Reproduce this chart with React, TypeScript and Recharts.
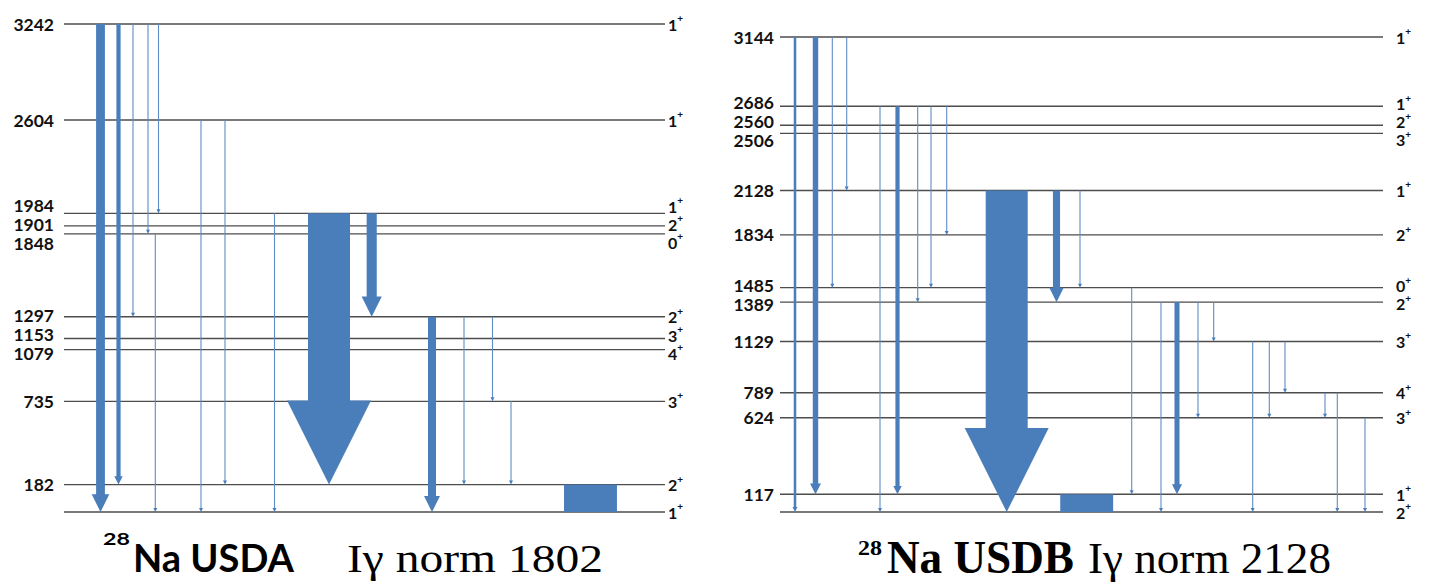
import React from 'react';
import { ComposedChart, XAxis, YAxis, ReferenceLine, ReferenceDot } from 'recharts';

// level energies (keV) and spins, highest first
const usdaLevels = [3242, 2604, 1984, 1901, 1848, 1297, 1153, 1079, 735, 182, 0];
const usdaSpins = ['1', '1', '1', '2', '0', '2', '3', '4', '3', '2', '1'];
const usdbLevels = [3144, 2686, 2560, 2506, 2128, 1834, 1485, 1389, 1129, 789, 624, 117, 0];
const usdbSpins = ['1', '1', '2', '3', '1', '2', '0', '2', '3', '4', '3', '1', '2'];

// gamma transitions: column, initial level, final level, relative intensity
const usdaGammas = [
  { col: 36.5, from: 3242, to: 0, ig: 21 },
  { col: 54.5, from: 3242, to: 182, ig: 10 },
  { col: 69, from: 3242, to: 1297, ig: 2 },
  { col: 84, from: 3242, to: 1848, ig: 2 },
  { col: 94.5, from: 3242, to: 1984, ig: 2 },
  { col: 91.3, from: 1848, to: 0, ig: 2 },
  { col: 137, from: 2604, to: 0, ig: 2 },
  { col: 161, from: 2604, to: 182, ig: 2 },
  { col: 210.5, from: 1984, to: 0, ig: 2 },
  { col: 265, from: 1984, to: 182, ig: 100 },
  { col: 307.7, from: 1984, to: 1297, ig: 24 },
  { col: 368, from: 1297, to: 0, ig: 19 },
  { col: 400, from: 1297, to: 182, ig: 2 },
  { col: 428.5, from: 1297, to: 735, ig: 2 },
  { col: 447, from: 735, to: 182, ig: 2 },
];
const usdaBoxes = [{ col: 526.5, from: 182, to: 0, ig: 126 }];

const usdbGammas = [
  { col: 15, from: 3144, to: 0, ig: 6 },
  { col: 35.5, from: 3144, to: 117, ig: 13 },
  { col: 52.3, from: 3144, to: 1485, ig: 2 },
  { col: 66.7, from: 3144, to: 2128, ig: 2 },
  { col: 100, from: 2686, to: 0, ig: 2 },
  { col: 117.5, from: 2686, to: 117, ig: 10 },
  { col: 137.7, from: 2686, to: 1389, ig: 2 },
  { col: 151, from: 2686, to: 1485, ig: 2 },
  { col: 166.7, from: 2686, to: 1834, ig: 2 },
  { col: 226.7, from: 2128, to: 0, ig: 100 },
  { col: 276.5, from: 2128, to: 1389, ig: 17 },
  { col: 300, from: 2128, to: 1485, ig: 2 },
  { col: 351.7, from: 1485, to: 117, ig: 2 },
  { col: 381, from: 1389, to: 0, ig: 2 },
  { col: 397, from: 1389, to: 117, ig: 12 },
  { col: 418, from: 1389, to: 624, ig: 2 },
  { col: 433.7, from: 1389, to: 1129, ig: 2 },
  { col: 472.7, from: 1129, to: 0, ig: 2 },
  { col: 489.3, from: 1129, to: 624, ig: 2 },
  { col: 505, from: 1129, to: 789, ig: 2 },
  { col: 545, from: 789, to: 624, ig: 2 },
  { col: 557.3, from: 789, to: 0, ig: 2 },
  { col: 585, from: 624, to: 0, ig: 2 },
];
const usdbBoxes = [{ col: 306.7, from: 117, to: 0, ig: 126 }];

const BLUE = '#4A7EBB';
const SANS = "Lato, 'Open Sans', sans-serif";
const SERIF = "'Liberation Serif', 'DejaVu Serif', serif";
const PX_PER_IG = 0.42;

// push crowded labels apart (values sorted high to low)
function spread(values: number[], gap: number): number[] {
  let groups = values.map((v, i) => ({ idx: [i], center: v }));
  let changed = true;
  while (changed) {
    changed = false;
    for (let i = 0; i < groups.length - 1; i++) {
      const a = groups[i];
      const b = groups[i + 1];
      const aLow = a.center - ((a.idx.length - 1) * gap) / 2;
      const bHigh = b.center + ((b.idx.length - 1) * gap) / 2;
      if (aLow - bHigh < gap) {
        const idx = [...a.idx, ...b.idx];
        const center = idx.reduce((s, k) => s + values[k], 0) / idx.length;
        groups.splice(i, 2, { idx, center });
        changed = true;
        break;
      }
    }
  }
  const out: number[] = new Array(values.length);
  groups.forEach((g) =>
    g.idx.forEach((k, j) => {
      out[k] = g.center + ((g.idx.length - 1) / 2 - j) * gap;
    })
  );
  return out;
}

function renderArrow(p: any, w: number) {
  const x = p.x1;
  const y1 = p.y1;
  const y2 = p.y2;
  if (w < 1.5) {
    const h = 2;
    return (
      <g>
        <line x1={x} y1={y1} x2={x} y2={y2 - 2} stroke="#5f8cc6" strokeWidth={1.1} />
        <path d={`M${x - h},${y2 - 4}L${x + h},${y2 - 4}L${x},${y2}Z`} fill={BLUE} />
      </g>
    );
  }
  const hw = w * 2;
  const hl = w * 2;
  const d = `M${x - w / 2},${y1}L${x + w / 2},${y1}L${x + w / 2},${y2 - hl}L${x + hw / 2},${y2 - hl}L${x},${y2}L${x - hw / 2},${y2 - hl}L${x - w / 2},${y2 - hl}Z`;
  return <path d={d} fill={BLUE} />;
}

function renderBox(p: any, w: number) {
  return <rect x={p.x1 - w / 2} y={p.y1} width={w} height={p.y2 - p.y1} fill={BLUE} />;
}

type Gamma = { col: number; from: number; to: number; ig: number };

function LevelScheme(props: {
  levels: number[];
  spins: string[];
  gammas: Gamma[];
  boxes: Gamma[];
  width: number;
  height: number;
  margin: { top: number; right: number; bottom: number; left: number };
  tickGap: number;
  spinGap: number;
}) {
  const { levels, spins, gammas, boxes, width, height, margin, tickGap, spinGap } = props;
  const eMax = levels[0];
  const xMax = width - margin.left - margin.right;
  const pxPerE = (height - margin.top - margin.bottom) / eMax;
  const tickLevels = levels.filter((e) => e > 0);
  const tickPos = spread(tickLevels, 19 / pxPerE);
  const spinPos = spread(levels, 18 / pxPerE);

  return (
    <ComposedChart width={width} height={height} margin={margin}>
      <XAxis type="number" dataKey="x" domain={[0, xMax]} allowDataOverflow hide />
      <YAxis type="number" domain={[0, eMax]} allowDataOverflow hide />
      {levels.map((e) => (
        <ReferenceLine key={'lv' + e} y={e} stroke="#4d4d4d" strokeWidth={1.4} />
      ))}
      {gammas.map((g, i) => (
        <ReferenceLine
          key={'g' + i}
          segment={[
            { x: g.col, y: g.from },
            { x: g.col, y: g.to },
          ]}
          ifOverflow="visible"
          shape={(p: any) => renderArrow(p, g.ig * PX_PER_IG)}
        />
      ))}
      {boxes.map((g, i) => (
        <ReferenceLine
          key={'b' + i}
          segment={[
            { x: g.col, y: g.from },
            { x: g.col, y: g.to },
          ]}
          ifOverflow="visible"
          shape={(p: any) => renderBox(p, g.ig * PX_PER_IG)}
        />
      ))}
      {tickLevels.map((e, i) => (
        <ReferenceDot
          key={'t' + e}
          x={0}
          y={tickPos[i]}
          r={0}
          ifOverflow="visible"
          shape={(p: any) => (
            <text
              x={p.cx - tickGap}
              y={p.cy}
              textAnchor="end"
              dominantBaseline="central"
              fontFamily={SANS}
              fontWeight="bold"
              fontSize={17.5}
              fill="#111"
            >
              {e}
            </text>
          )}
        />
      ))}
      {levels.map((e, i) => (
        <ReferenceDot
          key={'s' + e}
          x={xMax}
          y={spinPos[i]}
          r={0}
          ifOverflow="visible"
          shape={(p: any) => (
            <text
              x={p.cx + spinGap}
              y={p.cy}
              dominantBaseline="central"
              fontFamily={SANS}
              fontWeight="bold"
              fontSize={16}
              fill="#111"
            >
              {spins[i]}
              <tspan dy={-6} fontSize={10}>
                +
              </tspan>
            </text>
          )}
        />
      ))}
    </ComposedChart>
  );
}

export default function App() {
  return (
    <div style={{ position: 'absolute', left: 0, top: 0, width: 1431, height: 582, background: '#fff' }}>
      <div style={{ position: 'absolute', left: 0, top: 0 }}>
        <LevelScheme
          levels={usdaLevels}
          spins={usdaSpins}
          gammas={usdaGammas}
          boxes={usdaBoxes}
          width={720}
          height={530}
          margin={{ top: 24, right: 55, bottom: 18, left: 64 }}
          tickGap={10}
          spinGap={3}
        />
      </div>
      <div style={{ position: 'absolute', left: 720, top: 0 }}>
        <LevelScheme
          levels={usdbLevels}
          spins={usdbSpins}
          gammas={usdbGammas}
          boxes={usdbBoxes}
          width={711}
          height={530}
          margin={{ top: 37, right: 48, bottom: 18, left: 60 }}
          tickGap={6}
          spinGap={13}
        />
      </div>
      <svg width={1431} height={582} style={{ position: 'absolute', left: 0, top: 0, pointerEvents: 'none' }}>
        <text x={103} y={545} fontFamily={SANS} fontWeight="bold" fontSize={17} textLength={27} lengthAdjust="spacingAndGlyphs">
          28
        </text>
        <text x={133} y={572} fontFamily={SANS} fontWeight="bold" fontSize={38} textLength={161} lengthAdjust="spacingAndGlyphs">
          Na USDA
        </text>
        <text x={347} y={572} fontFamily={SERIF} fontSize={39} textLength={256} lengthAdjust="spacingAndGlyphs">
          Iγ norm 1802
        </text>
        <text x={858} y={555} fontFamily={SERIF} fontWeight="bold" fontSize={21} textLength={24} lengthAdjust="spacingAndGlyphs">
          28
        </text>
        <text x={887} y={573} fontFamily={SERIF} fontWeight="bold" fontSize={46} textLength={187} lengthAdjust="spacingAndGlyphs">
          Na USDB
        </text>
        <text x={1088} y={573} fontFamily={SERIF} fontSize={44} textLength={243} lengthAdjust="spacingAndGlyphs">
          Iγ norm 2128
        </text>
      </svg>
    </div>
  );
}
